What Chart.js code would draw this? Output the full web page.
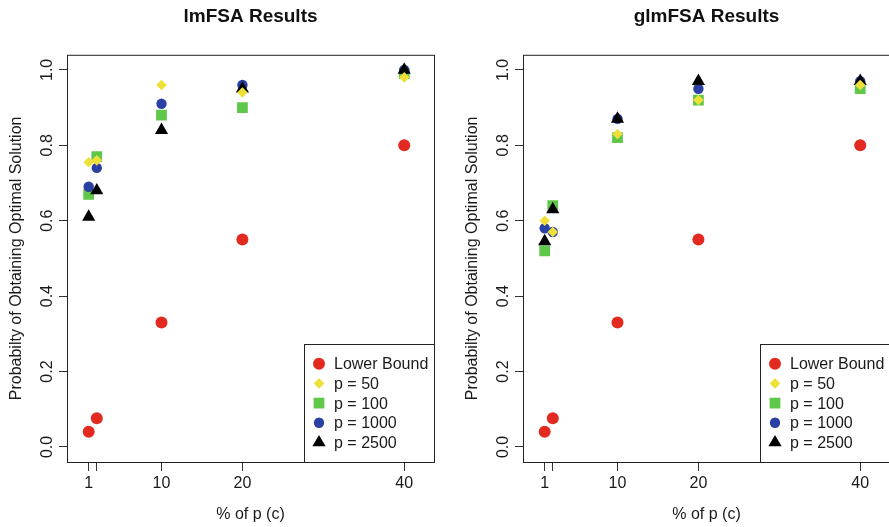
<!DOCTYPE html>
<html>
<head>
<meta charset="utf-8">
<title>FSA results</title>
<script src="https://cdn.jsdelivr.net/npm/chart.js@4.4.1/dist/chart.umd.min.js"></script>
<style>
  html, body { margin: 0; padding: 0; background: #fff; overflow: hidden; }
  .panel { position: absolute; top: 0; width: 445px; height: 527px; }
  #left { left: 0; }
  #right { left: 456px; }
</style>
</head>
<body>
<div class="panel" id="left"><canvas id="lmChart"></canvas></div>
<div class="panel" id="right"><canvas id="glmChart"></canvas></div>
<script>
const pctOfP = [1, 2, 10, 20, 40];
const xTicks = [1, 2, 10, 20, 40];
const xTickLabels = ['1', '', '10', '20', '40'];
const yTicks = [0, 0.2, 0.4, 0.6, 0.8, 1.0];
const seriesLabels = ['Lower Bound', 'p = 50', 'p = 100', 'p = 1000', 'p = 2500'];

const lowerBound = [0.04, 0.076, 0.33, 0.55, 0.80];

// lmFSA
const lmP50 = [0.755, 0.76, 0.96, 0.94, 0.98];
const lmP100 = [0.67, 0.77, 0.88, 0.90, 0.99];
const lmP1000 = [0.69, 0.74, 0.91, 0.96, 1.00];
const lmP2500 = [0.61, 0.68, 0.84, 0.95, 1.00];

// glmFSA
const glmP50 = [0.60, 0.57, 0.83, 0.92, 0.96];
const glmP100 = [0.52, 0.64, 0.82, 0.92, 0.95];
const glmP1000 = [0.58, 0.57, 0.87, 0.95, 0.97];
const glmP2500 = [0.545, 0.63, 0.87, 0.97, 0.97];

const fontFamily = "'Liberation Sans', Arial, sans-serif";
Chart.defaults.font.family = fontFamily;
Chart.defaults.color = '#1a1a1a';

// marker look per series; order decides who is painted on top (lowest last)
const markers = [
    { color: '#e32a20', style: 'circle', radius: 6, order: 4 },
    { color: '#eee038', style: 'rectRot', radius: 5.3, order: 0 },
    { color: '#5fc74a', style: 'rect', radius: 7.6, order: 3 },
    { color: '#2b40a3', style: 'circle', radius: 5.2, order: 2 },
    { color: '#000000', style: 'triangle', radius: 7.6, order: 1 },
];

// plot frame plus an R-like legend box in the bottom-right corner
const frameAndLegend = {
    id: 'frameAndLegend',
    afterDatasetsDraw(chart) {
        const { ctx, chartArea: a } = chart;
        ctx.save();
        ctx.strokeStyle = '#222';
        ctx.lineWidth = 1;
        ctx.strokeRect(a.left + 0.5, a.top + 0.5, a.right - a.left, a.bottom - a.top);

        ctx.font = '16px ' + fontFamily;
        const rowH = 19.7;
        const textW = Math.max(...chart.data.datasets.map(d => ctx.measureText(d.label).width));
        const w = Math.round(30 + textW + 6);
        const h = Math.round(rowH * 6);
        const left = Math.round(a.right - w);
        const top = Math.round(a.bottom - h);
        ctx.fillStyle = '#fff';
        ctx.fillRect(left, top, w, h);
        ctx.strokeRect(left + 0.5, top + 0.5, w, h);

        ctx.textAlign = 'left';
        ctx.textBaseline = 'middle';
        chart.data.datasets.forEach((ds, i) => {
            const y = top + rowH * (i + 1);
            ctx.fillStyle = ds.backgroundColor;
            Chart.helpers.drawPoint(ctx, {
                pointStyle: ds.pointStyle,
                radius: ds.pointRadius,
                rotation: 0,
                borderWidth: 0,
            }, left + 15, y);
            ctx.fillStyle = '#1a1a1a';
            ctx.fillText(ds.label, left + 30, y + 1);
        });
        ctx.restore();
    }
};

const makeChart = (canvasId, title, seriesValues) => {
    const datasets = seriesValues.map((values, i) => ({
        label: seriesLabels[i],
        data: values.map((v, j) => ({ x: pctOfP[j], y: v })),
        backgroundColor: markers[i].color,
        borderColor: markers[i].color,
        borderWidth: 0,
        pointStyle: markers[i].style,
        pointRadius: markers[i].radius,
        order: markers[i].order,
    }));

    return new Chart(document.getElementById(canvasId), {
        type: 'scatter',
        data: { datasets },
        options: {
            responsive: true,
            maintainAspectRatio: false,
            animation: false,
            events: [],
            layout: { padding: { left: 0, right: 11, top: 0, bottom: 0 } },
            plugins: {
                legend: { display: false },
                tooltip: { enabled: false },
                title: {
                    display: true,
                    text: title,
                    fullSize: false,
                    color: '#111',
                    font: { size: 19, weight: 'bold' },
                    padding: { top: 5, bottom: 27 },
                },
            },
            scales: {
                x: {
                    type: 'linear',
                    min: -1.68,
                    max: 43.68,
                    afterBuildTicks: (scale) => { scale.ticks = xTicks.map(v => ({ value: v })); },
                    afterFit: (scale) => { scale.height = 65; },
                    ticks: {
                        autoSkip: false,
                        maxRotation: 0,
                        padding: 3,
                        font: { size: 16 },
                        callback: (value) => xTickLabels[xTicks.indexOf(value)],
                    },
                    grid: { drawOnChartArea: false, tickLength: 9, tickColor: '#333' },
                    border: { display: false },
                    title: {
                        display: true,
                        text: '% of p (c)',
                        font: { size: 16 },
                        padding: { top: 0, bottom: 3 },
                    },
                },
                y: {
                    type: 'linear',
                    min: -0.04,
                    max: 1.04,
                    afterBuildTicks: (scale) => { scale.ticks = yTicks.map(v => ({ value: v })); },
                    afterFit: (scale) => { scale.width = 67; },
                    ticks: {
                        minRotation: 90,
                        maxRotation: 90,
                        crossAlign: 'center',
                        padding: 0,
                        font: { size: 16 },
                        callback: (value) => value.toFixed(1),
                    },
                    grid: { drawOnChartArea: false, tickLength: 8, tickColor: '#333' },
                    border: { display: false },
                    title: {
                        display: true,
                        text: 'Probabilty of Obtaining Optimal Solution',
                        font: { size: 16 },
                        padding: { top: 7, bottom: 0 },
                    },
                },
            },
        },
        plugins: [frameAndLegend],
    });
};

makeChart('lmChart', 'lmFSA Results', [lowerBound, lmP50, lmP100, lmP1000, lmP2500]);
makeChart('glmChart', 'glmFSA Results', [lowerBound, glmP50, glmP100, glmP1000, glmP2500]);
</script>
</body>
</html>
